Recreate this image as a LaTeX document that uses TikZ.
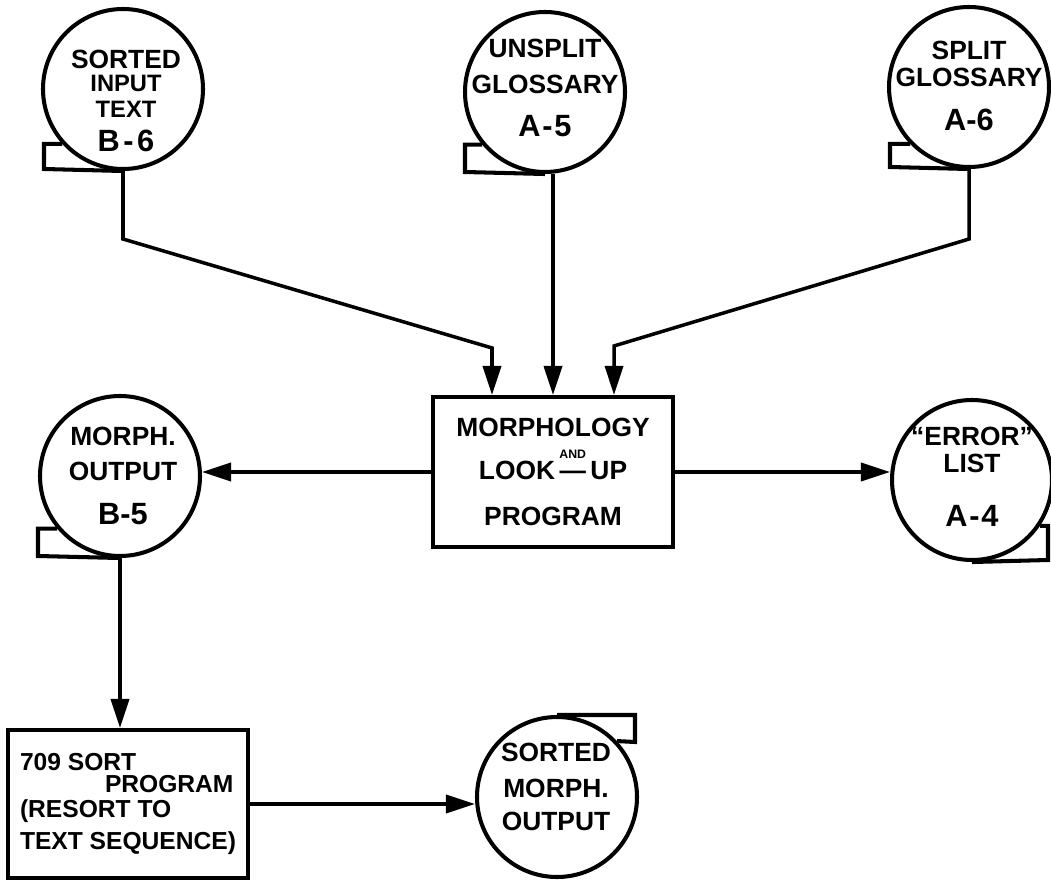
\documentclass[tikz,border=0pt]{standalone}
\usepackage{fontspec}
\setmainfont{Liberation Sans}
\usetikzlibrary{arrows.meta,calc}

\tikzset{
  tape/.style={draw, circle, line width=2.3pt, minimum size=32mm, inner sep=0pt},
  tapetext/.style={align=center, font=\bfseries\fontsize{15}{17}\selectfont},
  tail/.style={line width=2.3pt, line join=miter},
  progbox/.style={draw, rectangle, line width=2.3pt, minimum width=48mm,
    minimum height=30mm, align=center, font=\bfseries\fontsize{15}{17}\selectfont},
  arr/.style={line width=2pt, -{Triangle[length=5.8mm,width=3.6mm]}}
}
\newcommand{\tapeno}[1]{{\fontsize{17.5}{18}\selectfont #1}}

\begin{document}
\begin{tikzpicture}[x=0.2mm,y=-0.2mm]
\useasboundingbox (0,0) rectangle (1051,882);

% input tapes
\node[tape] (inB) at (123,89) {};
\node[tapetext] (inBt) at ($(inB)+(3,12)$)
  {SORTED\\[-4pt]{\fontsize{13.5}{14}\selectfont INPUT}\\[-2.5pt]{\fontsize{13.5}{14}\selectfont TEXT}\\[2.5pt]\tapeno{B\kern2pt-\kern2pt6}};
\draw[tail] (inB.222) -| (44,169) -- (inB.south);
\node[tape] (inU) at (545,92) {};
\node[tapetext] (inUt) at ($(inU)+(0,-4)$)
  {UNSPLIT\\[3.4pt]GLOSSARY\\[8pt]\tapeno{A\kern1pt-\kern1pt5}};
\draw[tail] (inU.220) -| (465,172) -- (inU.south);
\node[tape] (inS) at (969,87) {};
\node[tapetext] (inSt) at ($(inS)+(0,-1)$)
  {SPLIT\\[-1.7pt]GLOSSARY\\[8.5pt]\tapeno{A-6}};
\draw[tail] (inS.224) -| (890,167) -- (inS.south);

% look-up program
\node[progbox] (prog) at (553,472)
  {MORPHOLOGY\\[7.4pt]LOOK\,\ooalign{\hfil\raisebox{12pt}{\scriptsize AND}\hfil\cr\hfil---\hfil\cr}\,UP\\[9.6pt]PROGRAM};
\coordinate (pa) at ($(prog.north west)!.25!(prog.north east)$);
\coordinate (pc) at ($(prog.north west)!.75!(prog.north east)$);
\draw[arr] (inB.south) -- ++(0,68) -- ($(pa)+(0,-47)$) -- (pa);
\draw[arr] (inU.south -| prog.north) -- (prog.north);
\draw[arr] (inS.south) -- ++(0,70) -- ($(pc)+(0,-49)$) -- (pc);

% outputs
\node[tape] (outB) at (120,476) {};
\node[tapetext] (outBt) at ($(outB)+(3,0)$)
  {MORPH.\\[2.8pt]OUTPUT\\[8.5pt]\tapeno{B-5}};
\draw[tail] (outB.220) -| (38,556) -- (outB.south);
\node[tape] (err) at (972,480) {};
\node[tapetext] (errt) at ($(err)+(0,-3)$)
  {“ERROR”\\[-1.7pt]LIST\\[14pt]\tapeno{A\kern1pt-\kern1pt4}};
\draw[tail] (err.326) -| (1048,560) -- (err.south);
\draw[arr] (prog.west) -- (prog.west -| outB.east);
\draw[arr] (prog.east) -- (prog.east -| err.west);

% sort
\node[progbox, align=left, minimum height=29.6mm,
  font=\bfseries\fontsize{14}{16}\selectfont] (sortp) at (128,804)
  {709 SORT\\[-3.5pt]\hspace*{17mm}PROGRAM\\[-1.8pt](RESORT TO\\[2.7pt]TEXT SEQUENCE)};
\draw[arr] (outB.south) -- (outB.south |- sortp.north);
\node[tape] (srt) at (557,797) {};
\node[tapetext] (srtt) at ($(srt)+(-1,-10)$)
  {SORTED\\[3.4pt]MORPH.\\[2.3pt]OUTPUT};
\draw[tail] (srt.north) -| (635,742) -- (srt.43);
\draw[arr] (sortp.east) -- (sortp.east -| srt.west);
\end{tikzpicture}
\end{document}
